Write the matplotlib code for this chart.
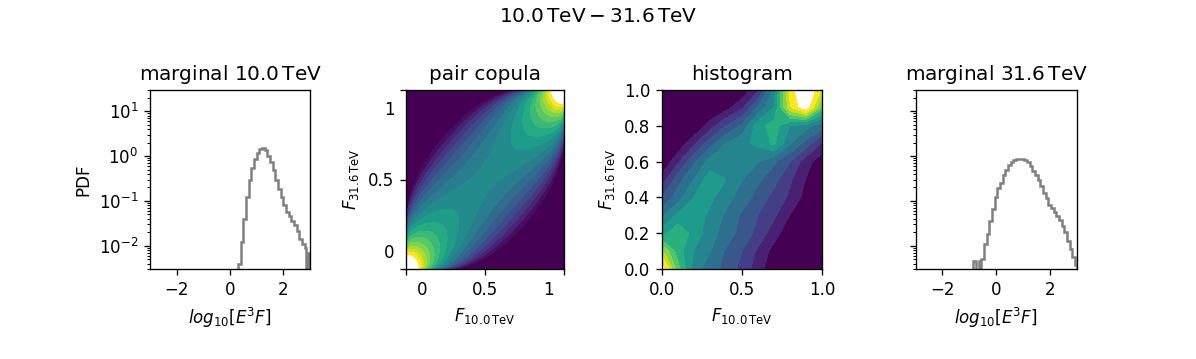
import numpy as np
import matplotlib
matplotlib.use("Agg")
import matplotlib.pyplot as plt
from statistics import NormalDist

# ---------------- data ----------------
# marginal 10.0 TeV : step histogram (bin edges, PDF values)
m1_edges = [0.3, 0.4, 0.5, 0.6, 0.7, 0.8, 0.9, 1.0, 1.1, 1.2, 1.3, 1.4, 1.5, 1.6,
            1.7, 1.8, 1.9, 2.0, 2.1, 2.2, 2.3, 2.4, 2.5, 2.6, 2.7, 2.8, 2.85, 2.9,
            2.95, 3.0]
m1_pdf = [0.004, 0.012, 0.04, 0.12, 0.3, 0.55, 0.85, 1.15, 1.4, 1.53, 1.35, 1.0,
          0.72, 0.48, 0.3, 0.18, 0.12, 0.08, 0.058, 0.045, 0.035, 0.029, 0.021,
          0.014, 0.011, 0.009, 0.0, 0.007, 0.0]

# marginal 31.6 TeV
m4_edges = [-0.85, -0.75, -0.65, -0.6, -0.55, -0.45, -0.35, -0.25, -0.15, -0.05,
            0.05, 0.15, 0.25, 0.35, 0.45, 0.55, 0.65, 0.75, 0.85, 0.95, 1.05,
            1.15, 1.25, 1.35, 1.45, 1.55, 1.65, 1.75, 1.85, 1.95, 2.05, 2.15,
            2.25, 2.35, 2.45, 2.55, 2.65, 2.75, 2.85, 2.95, 3.0]
m4_pdf = [0.0045, 0.0, 0.0045, 0.0, 0.005, 0.011, 0.018, 0.035, 0.065, 0.12, 0.19,
          0.25, 0.37, 0.5, 0.62, 0.72, 0.8, 0.86, 0.88, 0.87, 0.82, 0.73, 0.6,
          0.47, 0.37, 0.29, 0.21, 0.15, 0.115, 0.08, 0.068, 0.056, 0.046, 0.037,
          0.028, 0.02, 0.013, 0.0085, 0.0055, 0.0038]

# pair copula: Gaussian copula correlation, grid range in u, contour levels
RHO = 0.68
cop_u_range = (0.01, 0.99)
cop_level_lo, cop_level_hi, cop_nlev = 0.55, 3.3, 17
cop_power = 0.25   # level spacing exponent

# histogram of (F_10TeV, F_31.6TeV): relative density on an 11x11 grid
hist_u = [0.0, 0.1, 0.2, 0.3, 0.4, 0.5, 0.6, 0.7, 0.8, 0.9, 1.0]
hist_v = [0.0, 0.1, 0.2, 0.3, 0.4, 0.5, 0.6, 0.7, 0.8, 0.9, 1.0]
hist_z = [
    [1.10, 0.70, 0.45, 0.38, 0.30, 0.22, 0.12, 0.02, 0.00, 0.00, 0.00],  # v=0.0
    [0.85, 0.62, 0.50, 0.42, 0.32, 0.25, 0.15, 0.05, 0.00, 0.00, 0.00],  # v=0.1
    [0.55, 0.65, 0.55, 0.45, 0.38, 0.30, 0.22, 0.12, 0.02, 0.00, 0.00],  # v=0.2
    [0.40, 0.52, 0.55, 0.48, 0.40, 0.32, 0.25, 0.18, 0.08, 0.00, 0.00],  # v=0.3
    [0.25, 0.38, 0.50, 0.52, 0.45, 0.38, 0.30, 0.22, 0.15, 0.05, 0.00],  # v=0.4
    [0.12, 0.30, 0.42, 0.55, 0.50, 0.42, 0.35, 0.28, 0.18, 0.08, 0.00],  # v=0.5
    [0.00, 0.15, 0.32, 0.45, 0.50, 0.48, 0.42, 0.35, 0.25, 0.12, 0.03],  # v=0.6
    [0.00, 0.02, 0.15, 0.30, 0.42, 0.48, 0.52, 0.60, 0.42, 0.30, 0.15],  # v=0.7
    [0.00, 0.00, 0.00, 0.12, 0.25, 0.35, 0.55, 0.62, 0.50, 0.45, 0.38],  # v=0.8
    [0.00, 0.00, 0.00, 0.00, 0.05, 0.15, 0.35, 0.50, 0.90, 1.10, 0.70],  # v=0.9
    [0.00, 0.00, 0.00, 0.00, 0.00, 0.02, 0.15, 0.45, 0.95, 1.15, 0.90],  # v=1.0
]
hist_levels = [0.0, 1/12, 2/12, 3/12, 4/12, 5/12, 6/12, 7/12, 8/12, 9/12, 10/12, 11/12, 1.0]

suptitle = r"$10.0\,\mathrm{TeV} - 31.6\,\mathrm{TeV}$"
titles = [r"marginal $10.0\,\mathrm{TeV}$", "pair copula", "histogram",
          r"marginal $31.6\,\mathrm{TeV}$"]
xlab_marg = r"$log_{10}[E^3F]$"
xlab_F = r"$F_{10.0\,\mathrm{TeV}}$"
ylab_F = r"$F_{31.6\,\mathrm{TeV}}$"

# ---------------- figure ----------------
DPI = 120
fig = plt.figure(figsize=(1196 / DPI, 359 / DPI), dpi=DPI)
W, H = 1196.0, 359.0
bottom, height = 0.25, 0.5
ax1 = fig.add_axes([150 / W, bottom, 160 / W, height])
ax2 = fig.add_axes([406 / W, bottom, 158 / W, height])
ax3 = fig.add_axes([662 / W, bottom, 160 / W, height])
ax4 = fig.add_axes([915.5 / W, bottom, 161 / W, height])

fig.suptitle(suptitle)

# marginals
for ax, edges, vals in ((ax1, m1_edges, m1_pdf), (ax4, m4_edges, m4_pdf)):
    ax.stairs(vals, edges, color="gray", lw=1.5)
    ax.set_yscale("log")
    ax.set_ylim(3e-3, 30)
    ax.set_xlim(-3, 3)
    ax.set_xticks([-2, 0, 2])
    ax.set_xlabel(xlab_marg)
ax1.set_ylabel("PDF")
ax4.tick_params(axis="y", which="both", labelleft=False)
ax1.set_title(titles[0])
ax4.set_title(titles[3])

# pair copula
n = 301
gu = np.linspace(cop_u_range[0], cop_u_range[1], n)
nd = NormalDist()
q = np.array([nd.inv_cdf(float(p)) for p in gu])
X, Y = np.meshgrid(q, q)
dens = (1.0 / np.sqrt(1 - RHO ** 2)) * np.exp(
    -(RHO ** 2 * (X ** 2 + Y ** 2) - 2 * RHO * X * Y) / (2 * (1 - RHO ** 2)))
gp = np.linspace(0, 1, n)
P1, P2 = np.meshgrid(gp, gp)
zt = dens ** cop_power
lev_t = np.linspace(cop_level_lo ** cop_power, cop_level_hi ** cop_power, cop_nlev)
step = lev_t[1] - lev_t[0]
ax2.contourf(P1, P2, zt, levels=lev_t, cmap="viridis",
             vmin=lev_t[0], vmax=lev_t[-1] - 0.5 * step, extend="min")
ax2.set_xlim(0, 1)
ax2.set_ylim(0, 1)
for axis in (ax2.xaxis, ax2.yaxis):
    axis.remove_overlapping_locs = False
ax2.set_xticks([0, 0.5, 1])
ax2.set_yticks([0, 0.5, 1])
ax2.set_xticklabels([])
ax2.set_yticklabels([])
ax2.set_xticks([0.1, 0.5, 0.9], minor=True)
ax2.set_yticks([0.1, 0.5, 0.9], minor=True)
ax2.set_xticklabels(["0", "0.5", "1"], minor=True)
ax2.set_yticklabels(["0", "0.5", "1"], minor=True)
ax2.tick_params(which="minor", length=0, pad=7.0)
ax2.set_xlabel(xlab_F)
ax2.set_ylabel(ylab_F)
ax2.set_title(titles[1])

# histogram
lv = np.asarray(hist_levels)
mids = 0.5 * (lv[1:] + lv[:-1])
ax3.contourf(hist_u, hist_v, np.array(hist_z), levels=hist_levels,
             cmap="viridis", vmin=mids[0], vmax=mids[-1])
ax3.set_xlim(0, 1)
ax3.set_ylim(0, 1)
ax3.set_xticks([0, 0.5, 1])
ax3.set_yticks([0, 0.2, 0.4, 0.6, 0.8, 1.0])
ax3.set_xlabel(xlab_F)
ax3.set_ylabel(ylab_F)
ax3.set_title(titles[2])

fig.savefig("out.png", dpi=DPI)
